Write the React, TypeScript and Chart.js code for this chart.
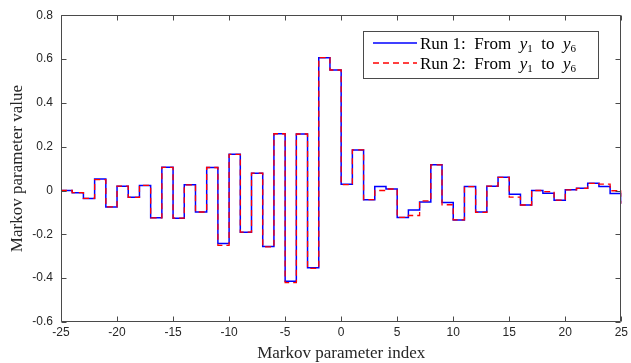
import React, { useEffect, useRef } from "react";
import { Chart, registerables } from "chart.js";

Chart.register(...registerables);

const indices = [
  -25, -24, -23, -22, -21, -20, -19, -18, -17, -16, -15, -14, -13, -12, -11, -10, -9, -8, -7, -6, -5, -4, -3, -2, -1,
  0, 1, 2, 3, 4, 5, 6, 7, 8, 9, 10, 11, 12, 13, 14, 15, 16, 17, 18, 19, 20, 21, 22, 23, 24, 25,
];

const run1 = [
  0.0, -0.01, -0.036, 0.052, -0.075, 0.02, -0.031, 0.023, -0.124, 0.106, -0.126, 0.026, -0.098, 0.105, -0.242,
  0.165, -0.19, 0.079, -0.255, 0.259, -0.414, 0.258, -0.353, 0.606, 0.55,
  0.029, 0.185, -0.042, 0.018, 0.007, -0.123, -0.089, -0.052, 0.117, -0.055, -0.134, 0.018, -0.098, 0.02, 0.06,
  -0.017, -0.066, 0.0, -0.012, -0.044, 0.003, 0.01, 0.033, 0.018, -0.014, -0.06,
];

const run2 = [
  0.0, -0.01, -0.036, 0.05, -0.075, 0.02, -0.031, 0.023, -0.125, 0.106, -0.126, 0.026, -0.098, 0.105, -0.25,
  0.165, -0.19, 0.079, -0.257, 0.259, -0.42, 0.258, -0.355, 0.606, 0.55,
  0.027, 0.185, -0.042, 0.0, 0.007, -0.123, -0.114, -0.047, 0.117, -0.065, -0.134, 0.018, -0.1, 0.02, 0.06,
  -0.03, -0.066, 0.0, -0.005, -0.044, 0.003, 0.01, 0.033, 0.029, -0.001, -0.06,
];

const xTicks = [-25, -20, -15, -10, -5, 0, 5, 10, 15, 20, 25];
const yTicks = [-0.6, -0.4, -0.2, 0, 0.2, 0.4, 0.6, 0.8];

const legendRows = [
  { run: "Run 1", color: "#0000ff", dash: [] as number[] },
  { run: "Run 2", color: "#ff0000", dash: [6, 4] },
];

const AXIS_COLOR = "#4a4a4a";

const framePlugin = {
  id: "frame",
  afterDraw(chart: any) {
    const { ctx, chartArea: a, scales } = chart;
    const xs = scales.x;
    const ys = scales.y;
    ctx.save();
    ctx.strokeStyle = AXIS_COLOR;
    ctx.lineWidth = 1;
    const L = Math.round(a.left) + 0.5;
    const R = Math.round(a.right) - 0.5;
    const T = Math.round(a.top) + 0.5;
    const B = Math.round(a.bottom) - 0.5;
    ctx.beginPath();
    ctx.rect(L, T, R - L, B - T);
    ctx.stroke();
    const tl = 5;
    ctx.beginPath();
    for (const v of xTicks) {
      const px = Math.round(xs.getPixelForValue(v)) + 0.5;
      ctx.moveTo(px, B);
      ctx.lineTo(px, B - tl);
      ctx.moveTo(px, T);
      ctx.lineTo(px, T + tl);
    }
    for (const v of yTicks) {
      const py = Math.round(ys.getPixelForValue(v)) + 0.5;
      ctx.moveTo(L, py);
      ctx.lineTo(L + tl, py);
      ctx.moveTo(R, py);
      ctx.lineTo(R - tl, py);
    }
    ctx.stroke();

    // legend
    const bx = 363.5, by = 31.5, bw = 235, bh = 47;
    ctx.fillStyle = "#ffffff";
    ctx.fillRect(bx, by, bw, bh);
    ctx.strokeStyle = AXIS_COLOR;
    ctx.lineWidth = 1;
    ctx.strokeRect(bx, by, bw, bh);
    const rowY = [43, 63];
    legendRows.forEach((row, i) => {
      const yy = rowY[i];
      ctx.strokeStyle = row.color;
      ctx.lineWidth = 1.5;
      ctx.setLineDash(row.dash);
      ctx.beginPath();
      ctx.moveTo(373, yy);
      ctx.lineTo(417, yy);
      ctx.stroke();
      ctx.setLineDash([]);
      ctx.fillStyle = "#000000";
      ctx.textBaseline = "alphabetic";
      ctx.textAlign = "left";
      const base = yy + 6;
      let x = 420;
      const normal = "17px 'Liberation Serif', serif";
      const italic = "italic 17px 'Liberation Serif', serif";
      const sub = "11px 'Liberation Serif', serif";
      const parts: [string, string, number][] = [
        [row.run + ":  From  ", normal, 0],
        ["y", italic, 0],
        ["1", sub, 3],
        ["  to  ", normal, 0],
        ["y", italic, 0],
        ["6", sub, 3],
      ];
      for (const [t, f, dy] of parts) {
        ctx.font = f;
        ctx.fillText(t, x, base + dy);
        x += ctx.measureText(t).width;
      }
    });
    ctx.restore();
  },
};

export default function App() {
  const ref = useRef<HTMLCanvasElement | null>(null);
  useEffect(() => {
    if (!ref.current) return;
    const pts1 = indices.map((x, i) => ({ x, y: run1[i] }));
    const pts2 = indices.map((x, i) => ({ x, y: run2[i] }));
    const chart = new Chart(ref.current, {
      type: "line",
      data: {
        datasets: [
          {
            label: "Run 1",
            data: pts1,
            borderColor: "#0000ff",
            borderWidth: 1.5,
            pointRadius: 0,
            stepped: "before",
            fill: false,
            order: 2,
          },
          {
            label: "Run 2",
            data: pts2,
            borderColor: "#ff0000",
            borderWidth: 1.3,
            borderDash: [6, 4],
            pointRadius: 0,
            stepped: "before",
            fill: false,
            order: 1,
          },
        ],
      },
      options: {
        responsive: false,
        animation: false,
        layout: { padding: { top: 14, right: 8, left: 0, bottom: 0 } },
        plugins: { legend: { display: false }, tooltip: { enabled: false } },
        scales: {
          x: {
            type: "linear",
            min: -25,
            max: 25,
            afterBuildTicks: (s: any) => {
              s.ticks = xTicks.map((v) => ({ value: v }));
            },
            afterFit: (s: any) => {
              s.height = 41;
            },
            grid: { display: false, drawTicks: false },
            border: { display: false },
            ticks: {
              padding: 3,
              color: "#262626",
              font: { family: "'Liberation Sans', Arial, sans-serif", size: 12 },
              maxRotation: 0,
              autoSkip: false,
              callback: (v: any) => String(Math.round(Number(v))),
            },
            title: {
              display: true,
              text: "Markov parameter index",
              color: "#262626",
              font: { family: "'Liberation Serif', serif", size: 17 },
              padding: { top: 0, bottom: -1 },
            },
          },
          y: {
            type: "linear",
            min: -0.6,
            max: 0.8,
            afterBuildTicks: (s: any) => {
              s.ticks = yTicks.map((v) => ({ value: v }));
            },
            afterFit: (s: any) => {
              s.width = 61;
            },
            grid: { display: false, drawTicks: false },
            border: { display: false },
            ticks: {
              padding: 8,
              color: "#262626",
              font: { family: "'Liberation Sans', Arial, sans-serif", size: 12 },
              autoSkip: false,
              callback: (v: any) => {
                const r = Math.round(Number(v) * 10) / 10;
                return r === 0 ? "0" : String(r);
              },
            },
            title: {
              display: true,
              text: "Markov parameter value",
              color: "#262626",
              font: { family: "'Liberation Serif', serif", size: 17 },
              padding: { top: 7, bottom: 0 },
            },
          },
        },
      },
      plugins: [framePlugin],
    });
    return () => chart.destroy();
  }, []);
  return (
    <div style={{ position: "absolute", left: 0, top: 0, width: 631, height: 363, background: "#fff" }}>
      <canvas ref={ref} width={631} height={363} style={{ display: "block" }} />
    </div>
  );
}
